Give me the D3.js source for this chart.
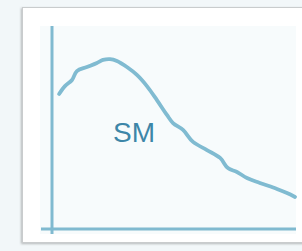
<!DOCTYPE html>
<html>
<head>
<meta charset="utf-8">
<script src="https://cdn.jsdelivr.net/npm/d3@7"></script>
<style>
  body { margin: 0; background: #f2f7f9; }
  svg { display: block; }
</style>
</head>
<body>
<svg></svg>
<script>
var xValues = [2.9, 5.3, 8.2, 10.2, 14.3, 18.4, 20.9, 23.8, 26.6, 30.7, 34.8, 38.9, 43.0, 47.1, 49.6, 53.7, 57.8, 63.5, 68.9, 72.1, 75.8, 79.9, 85.2, 92.2, 96.3, 99.6];
var yValues = [66.5, 70.4, 73.4, 77.8, 79.8, 81.8, 83.3, 83.7, 82.8, 79.8, 75.9, 70.4, 63.5, 56.2, 52.2, 48.8, 42.9, 38.9, 35.0, 30.0, 28.1, 25.1, 22.7, 19.7, 17.7, 15.8];
var label = "SM";

var svgWidth = 302,
  svgHeight = 251;

var svg = d3.select("svg").attr("width", svgWidth).attr("height", svgHeight);

// card with soft shadow
var defs = svg.append("defs");
var f = defs.append("filter").attr("id", "shadow").attr("x", "-10%").attr("y", "-10%").attr("width", "120%").attr("height", "120%");
f.append("feDropShadow").attr("dx", -1).attr("dy", 1).attr("stdDeviation", 1.2).attr("flood-color", "#000").attr("flood-opacity", 0.25);
// slight blur; user space region so straight lines (zero-size bbox) still render
defs.append("filter").attr("id", "soft")
  .attr("filterUnits", "userSpaceOnUse")
  .attr("x", 0).attr("y", 0).attr("width", svgWidth).attr("height", svgHeight)
  .append("feGaussianBlur").attr("stdDeviation", 0.4);

svg.append("rect")
  .attr("x", 22.5).attr("y", 7.5)
  .attr("width", 300).attr("height", 235)
  .attr("fill", "#ffffff")
  .attr("stroke", "#c9cccd")
  .attr("filter", "url(#shadow)");

// tinted plot panel
svg.append("rect")
  .attr("x", 40).attr("y", 26)
  .attr("width", 256).attr("height", 208)
  .attr("fill", "#f7fbfc");

var x = d3.scaleLinear().domain([0, 100]).range([52, 296]);
var y = d3.scaleLinear().domain([0, 100]).range([229, 26]);

var axisColor = "#80bad0";

// axes drawn as plain lines
svg.append("line")
  .attr("x1", x(0)).attr("x2", x(0))
  .attr("y1", y(100)).attr("y2", 234)
  .attr("stroke", axisColor).attr("stroke-width", 3)
  .attr("filter", "url(#soft)");

svg.append("line")
  .attr("x1", 41).attr("x2", x(100))
  .attr("y1", y(0)).attr("y2", y(0))
  .attr("stroke", axisColor).attr("stroke-width", 3)
  .attr("filter", "url(#soft)");

var points = xValues.map(function (d, i) { return [d, yValues[i]]; });

var line = d3.line()
  .x(function (d) { return x(d[0]); })
  .y(function (d) { return y(d[1]); })
  .curve(d3.curveCatmullRom);

svg.append("path")
  .datum(points)
  .attr("d", line)
  .attr("fill", "none")
  .attr("stroke", "#80bbd1")
  .attr("stroke-width", 3.8)
  .attr("stroke-linecap", "round")
  .attr("stroke-linejoin", "round")
  .attr("filter", "url(#soft)");

svg.append("text")
  .attr("x", 134)
  .attr("y", 142)
  .attr("text-anchor", "middle")
  .attr("font-family", "Liberation Sans, Arial, sans-serif")
  .attr("font-size", 28)
  .attr("fill", "#3d86a8")
  .text(label);
</script>
</body>
</html>
